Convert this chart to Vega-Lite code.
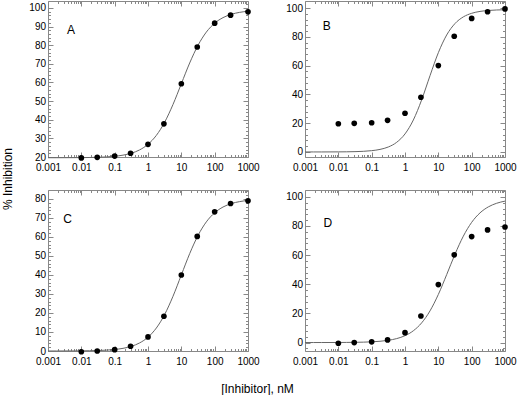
{
  "$schema": "https://vega.github.io/schema/vega-lite/v6.json",
  "padding": {"left": 0, "top": 0, "right": 0, "bottom": 0},
  "background": "white",
  "config": {
    "font": "Liberation Sans",
    "view": {"stroke": "#888", "strokeWidth": 1},
    "axis": {"domain": false, "grid": false, "labelFont": "Liberation Sans", "labelFontSize": 10, "labelColor": "black", "tickColor": "#888", "titleFont": "Liberation Sans", "titleFontWeight": "normal", "titleColor": "black", "labelOverlap": false, "labelFlush": false, "labelBound": false},
    "text": {"font": "Liberation Sans", "fontSize": 12, "color": "black", "align": "center", "baseline": "middle"}
  },
  "datasets": {
    "points": [
      {"panel": "A", "x": 0.01, "y": 19.5}, {"panel": "A", "x": 0.03, "y": 19.8}, {"panel": "A", "x": 0.1, "y": 20.5}, {"panel": "A", "x": 0.3, "y": 22}, {"panel": "A", "x": 1, "y": 26.8}, {"panel": "A", "x": 3, "y": 37.8}, {"panel": "A", "x": 10, "y": 59.3}, {"panel": "A", "x": 30, "y": 79}, {"panel": "A", "x": 100, "y": 91.8}, {"panel": "A", "x": 300, "y": 96.1}, {"panel": "A", "x": 1000, "y": 97.9},
      {"panel": "B", "x": 0.01, "y": 19.6}, {"panel": "B", "x": 0.03, "y": 19.9}, {"panel": "B", "x": 0.1, "y": 20.3}, {"panel": "B", "x": 0.3, "y": 22}, {"panel": "B", "x": 1, "y": 26.9}, {"panel": "B", "x": 3, "y": 38}, {"panel": "B", "x": 10, "y": 60}, {"panel": "B", "x": 30, "y": 80.4}, {"panel": "B", "x": 100, "y": 92.8}, {"panel": "B", "x": 300, "y": 97.4}, {"panel": "B", "x": 1000, "y": 99.4},
      {"panel": "C", "x": 0.01, "y": -0.4}, {"panel": "C", "x": 0.03, "y": 0}, {"panel": "C", "x": 0.1, "y": 0.7}, {"panel": "C", "x": 0.3, "y": 2.5}, {"panel": "C", "x": 1, "y": 7.4}, {"panel": "C", "x": 3, "y": 18.3}, {"panel": "C", "x": 10, "y": 40}, {"panel": "C", "x": 30, "y": 60.3}, {"panel": "C", "x": 100, "y": 73.2}, {"panel": "C", "x": 300, "y": 77.6}, {"panel": "C", "x": 1000, "y": 79},
      {"panel": "D", "x": 0.01, "y": -0.5}, {"panel": "D", "x": 0.03, "y": 0}, {"panel": "D", "x": 0.1, "y": 0.5}, {"panel": "D", "x": 0.3, "y": 1.8}, {"panel": "D", "x": 1, "y": 6.8}, {"panel": "D", "x": 3, "y": 18.2}, {"panel": "D", "x": 10, "y": 39.8}, {"panel": "D", "x": 30, "y": 60.2}, {"panel": "D", "x": 100, "y": 72.7}, {"panel": "D", "x": 300, "y": 77.3}, {"panel": "D", "x": 1000, "y": 79.3}
    ],
    "curves": [
      {"panel": "A", "x": 0.001, "y": 19.61}, {"panel": "A", "x": 0.00178, "y": 19.61}, {"panel": "A", "x": 0.00316, "y": 19.63}, {"panel": "A", "x": 0.00562, "y": 19.64}, {"panel": "A", "x": 0.01, "y": 19.68}, {"panel": "A", "x": 0.0178, "y": 19.74}, {"panel": "A", "x": 0.0316, "y": 19.85}, {"panel": "A", "x": 0.0562, "y": 20.04}, {"panel": "A", "x": 0.1, "y": 20.39}, {"panel": "A", "x": 0.178, "y": 20.99}, {"panel": "A", "x": 0.316, "y": 22.03}, {"panel": "A", "x": 0.562, "y": 23.82}, {"panel": "A", "x": 1, "y": 26.82}, {"panel": "A", "x": 1.78, "y": 31.6}, {"panel": "A", "x": 3.16, "y": 38.67}, {"panel": "A", "x": 5.62, "y": 48.17}, {"panel": "A", "x": 10, "y": 59.3}, {"panel": "A", "x": 17.8, "y": 70.44}, {"panel": "A", "x": 31.6, "y": 79.91}, {"panel": "A", "x": 56.2, "y": 87.01}, {"panel": "A", "x": 100, "y": 91.78}, {"panel": "A", "x": 178, "y": 94.78}, {"panel": "A", "x": 316, "y": 96.56}, {"panel": "A", "x": 562, "y": 97.61}, {"panel": "A", "x": 1000, "y": 98.21},
      {"panel": "B", "x": 0.001, "y": 0.004}, {"panel": "B", "x": 0.00178, "y": 0.007}, {"panel": "B", "x": 0.00316, "y": 0.014}, {"panel": "B", "x": 0.00562, "y": 0.029}, {"panel": "B", "x": 0.01, "y": 0.057}, {"panel": "B", "x": 0.0178, "y": 0.114}, {"panel": "B", "x": 0.0316, "y": 0.227}, {"panel": "B", "x": 0.0562, "y": 0.452}, {"panel": "B", "x": 0.1, "y": 0.898}, {"panel": "B", "x": 0.178, "y": 1.777}, {"panel": "B", "x": 0.316, "y": 3.47}, {"panel": "B", "x": 0.562, "y": 6.7}, {"panel": "B", "x": 1, "y": 12.53}, {"panel": "B", "x": 1.78, "y": 22.22}, {"panel": "B", "x": 3.16, "y": 36.21}, {"panel": "B", "x": 5.62, "y": 52.97}, {"panel": "B", "x": 10, "y": 68.97}, {"panel": "B", "x": 17.8, "y": 81.29}, {"panel": "B", "x": 31.6, "y": 89.24}, {"panel": "B", "x": 56.2, "y": 93.86}, {"panel": "B", "x": 100, "y": 96.35}, {"panel": "B", "x": 178, "y": 97.66}, {"panel": "B", "x": 316, "y": 98.32}, {"panel": "B", "x": 562, "y": 98.66}, {"panel": "B", "x": 1000, "y": 98.83},
      {"panel": "C", "x": 0.001, "y": 0.008}, {"panel": "C", "x": 0.00178, "y": 0.014}, {"panel": "C", "x": 0.00316, "y": 0.025}, {"panel": "C", "x": 0.00562, "y": 0.045}, {"panel": "C", "x": 0.01, "y": 0.08}, {"panel": "C", "x": 0.0178, "y": 0.142}, {"panel": "C", "x": 0.0316, "y": 0.252}, {"panel": "C", "x": 0.0562, "y": 0.447}, {"panel": "C", "x": 0.1, "y": 0.792}, {"panel": "C", "x": 0.178, "y": 1.4}, {"panel": "C", "x": 0.316, "y": 2.45}, {"panel": "C", "x": 0.562, "y": 4.26}, {"panel": "C", "x": 1, "y": 7.27}, {"panel": "C", "x": 1.78, "y": 12.09}, {"panel": "C", "x": 3.16, "y": 19.21}, {"panel": "C", "x": 5.62, "y": 28.78}, {"panel": "C", "x": 10, "y": 40}, {"panel": "C", "x": 17.8, "y": 51.22}, {"panel": "C", "x": 31.6, "y": 60.77}, {"panel": "C", "x": 56.2, "y": 67.92}, {"panel": "C", "x": 100, "y": 72.73}, {"panel": "C", "x": 178, "y": 75.74}, {"panel": "C", "x": 316, "y": 77.55}, {"panel": "C", "x": 562, "y": 78.6}, {"panel": "C", "x": 1000, "y": 79.21},
      {"panel": "D", "x": 0.001, "y": 0.005}, {"panel": "D", "x": 0.00178, "y": 0.009}, {"panel": "D", "x": 0.00316, "y": 0.016}, {"panel": "D", "x": 0.00562, "y": 0.028}, {"panel": "D", "x": 0.01, "y": 0.049}, {"panel": "D", "x": 0.0178, "y": 0.088}, {"panel": "D", "x": 0.0316, "y": 0.156}, {"panel": "D", "x": 0.0562, "y": 0.278}, {"panel": "D", "x": 0.1, "y": 0.493}, {"panel": "D", "x": 0.178, "y": 0.873}, {"panel": "D", "x": 0.316, "y": 1.54}, {"panel": "D", "x": 0.562, "y": 2.71}, {"panel": "D", "x": 1, "y": 4.71}, {"panel": "D", "x": 1.78, "y": 8.09}, {"panel": "D", "x": 3.16, "y": 13.51}, {"panel": "D", "x": 5.62, "y": 21.72}, {"panel": "D", "x": 10, "y": 33}, {"panel": "D", "x": 17.8, "y": 46.62}, {"panel": "D", "x": 31.6, "y": 60.63}, {"panel": "D", "x": 56.2, "y": 73.01}, {"panel": "D", "x": 100, "y": 82.5}, {"panel": "D", "x": 178, "y": 89}, {"panel": "D", "x": 316, "y": 93.11}, {"panel": "D", "x": 562, "y": 95.6}, {"panel": "D", "x": 1000, "y": 97.06}
    ]
  },
  "columns": 2,
  "bounds": "flush",
  "spacing": {"row": 33, "column": 57},
  "concat": [
    {
      "width": 200, "height": 156,
      "resolve": {"axis": {"x": "independent", "y": "independent"}},
      "layer": [
        {
          "data": {"name": "curves"},
          "transform": [{"filter": "datum.panel == 'A'"}],
          "mark": {"type": "line", "color": "#666", "strokeWidth": 1, "interpolate": "monotone"},
          "encoding": {
            "x": {"field": "x", "type": "quantitative", "scale": {"type": "log", "domain": [0.001, 1000], "nice": false},
              "axis": {"orient": "bottom", "title": null, "values": [0.001,0.002,0.003,0.004,0.005,0.006,0.007,0.008,0.009,0.01,0.02,0.03,0.04,0.05,0.06,0.07,0.08,0.09,0.1,0.2,0.3,0.4,0.5,0.6,0.7,0.8,0.9,1,2,3,4,5,6,7,8,9,10,20,30,40,50,60,70,80,90,100,200,300,400,500,600,700,800,900,1000],
                "labelExpr": "abs(log(datum.value)/LN10 - round(log(datum.value)/LN10)) < 0.001 ? format(datum.value, '~g') : ''",
                "tickSize": {"condition": {"test": "abs(log(datum.value)/LN10 - round(log(datum.value)/LN10)) < 0.001", "value": -5}, "value": -2.5},
                "labelPadding": 10}},
            "y": {"field": "y", "type": "quantitative", "scale": {"domain": [20, 103.7], "nice": false, "zero": false},
              "axis": {"orient": "left", "values": [20,22,24,26,28,30,32,34,36,38,40,42,44,46,48,50,52,54,56,58,60,62,64,66,68,70,72,74,76,78,80,82,84,86,88,90,92,94,96,98,100],
                "labelExpr": "datum.value % 10 == 0 ? datum.label : ''",
                "tickSize": {"condition": {"test": "datum.value % 10 == 0", "value": -5}, "value": -2.5},
                "labelPadding": 7.5,
                "title": "% Inhibition", "titleFontSize": 12, "titleX": -41, "titleY": 177.5, "titleAlign": "center", "titleBaseline": "middle", "titleAngle": -90}}
          }
        },
        {
          "data": {"name": "points"},
          "transform": [{"filter": "datum.panel == 'A'"}],
          "mark": {"type": "circle", "color": "black", "opacity": 1, "size": 32},
          "encoding": {
            "x": {"field": "x", "type": "quantitative",
              "axis": {"orient": "top", "title": null, "labels": false, "values": [0.001,0.002,0.003,0.004,0.005,0.006,0.007,0.008,0.009,0.01,0.02,0.03,0.04,0.05,0.06,0.07,0.08,0.09,0.1,0.2,0.3,0.4,0.5,0.6,0.7,0.8,0.9,1,2,3,4,5,6,7,8,9,10,20,30,40,50,60,70,80,90,100,200,300,400,500,600,700,800,900,1000],
                "tickSize": {"condition": {"test": "abs(log(datum.value)/LN10 - round(log(datum.value)/LN10)) < 0.001", "value": -5}, "value": -2.5}}},
            "y": {"field": "y", "type": "quantitative",
              "axis": {"orient": "right", "title": null, "labels": false, "values": [20,22,24,26,28,30,32,34,36,38,40,42,44,46,48,50,52,54,56,58,60,62,64,66,68,70,72,74,76,78,80,82,84,86,88,90,92,94,96,98,100,102],
                "tickSize": {"condition": {"test": "datum.value % 10 == 0", "value": -5}, "value": -2.5}}}
          }
        },
        {
          "data": {"values": [{"label": "A"}]},
          "mark": {"type": "text"},
          "encoding": {
            "x": {"datum": 0.0049, "type": "quantitative", "axis": null},
            "y": {"datum": 88.1, "type": "quantitative", "axis": null},
            "text": {"field": "label"}
          }
        }
      ]
    },
    {
      "width": 200, "height": 156,
      "resolve": {"axis": {"x": "independent", "y": "independent"}},
      "layer": [
        {
          "data": {"name": "curves"},
          "transform": [{"filter": "datum.panel == 'B'"}],
          "mark": {"type": "line", "color": "#666", "strokeWidth": 1, "interpolate": "monotone"},
          "encoding": {
            "x": {"field": "x", "type": "quantitative", "scale": {"type": "log", "domain": [0.001, 1000], "nice": false},
              "axis": {"orient": "bottom", "title": null, "values": [0.001,0.002,0.003,0.004,0.005,0.006,0.007,0.008,0.009,0.01,0.02,0.03,0.04,0.05,0.06,0.07,0.08,0.09,0.1,0.2,0.3,0.4,0.5,0.6,0.7,0.8,0.9,1,2,3,4,5,6,7,8,9,10,20,30,40,50,60,70,80,90,100,200,300,400,500,600,700,800,900,1000],
                "labelExpr": "abs(log(datum.value)/LN10 - round(log(datum.value)/LN10)) < 0.001 ? format(datum.value, '~g') : ''",
                "tickSize": {"condition": {"test": "abs(log(datum.value)/LN10 - round(log(datum.value)/LN10)) < 0.001", "value": -5}, "value": -2.5},
                "labelPadding": 10}},
            "y": {"field": "y", "type": "quantitative", "scale": {"domain": [-3.5, 104.9], "nice": false, "zero": false},
              "axis": {"orient": "left", "title": null, "values": [0,4,8,12,16,20,24,28,32,36,40,44,48,52,56,60,64,68,72,76,80,84,88,92,96,100],
                "labelExpr": "datum.value % 20 == 0 ? datum.label : ''",
                "tickSize": {"condition": {"test": "datum.value % 20 == 0", "value": -5}, "value": -2.5},
                "labelPadding": 7.5}}
          }
        },
        {
          "data": {"name": "points"},
          "transform": [{"filter": "datum.panel == 'B'"}],
          "mark": {"type": "circle", "color": "black", "opacity": 1, "size": 32},
          "encoding": {
            "x": {"field": "x", "type": "quantitative",
              "axis": {"orient": "top", "title": null, "labels": false, "values": [0.001,0.002,0.003,0.004,0.005,0.006,0.007,0.008,0.009,0.01,0.02,0.03,0.04,0.05,0.06,0.07,0.08,0.09,0.1,0.2,0.3,0.4,0.5,0.6,0.7,0.8,0.9,1,2,3,4,5,6,7,8,9,10,20,30,40,50,60,70,80,90,100,200,300,400,500,600,700,800,900,1000],
                "tickSize": {"condition": {"test": "abs(log(datum.value)/LN10 - round(log(datum.value)/LN10)) < 0.001", "value": -5}, "value": -2.5}}},
            "y": {"field": "y", "type": "quantitative",
              "axis": {"orient": "right", "title": null, "labels": false, "values": [0,4,8,12,16,20,24,28,32,36,40,44,48,52,56,60,64,68,72,76,80,84,88,92,96,100,104],
                "tickSize": {"condition": {"test": "datum.value % 20 == 0", "value": -5}, "value": -2.5}}}
          }
        },
        {
          "data": {"values": [{"label": "B"}]},
          "mark": {"type": "text"},
          "encoding": {
            "x": {"datum": 0.00448, "type": "quantitative", "axis": null},
            "y": {"datum": 87.5, "type": "quantitative", "axis": null},
            "text": {"field": "label"}
          }
        }
      ]
    },
    {
      "width": 200, "height": 161,
      "resolve": {"axis": {"x": "independent", "y": "independent"}},
      "layer": [
        {
          "data": {"name": "curves"},
          "transform": [{"filter": "datum.panel == 'C'"}],
          "mark": {"type": "line", "color": "#666", "strokeWidth": 1, "interpolate": "monotone"},
          "encoding": {
            "x": {"field": "x", "type": "quantitative", "scale": {"type": "log", "domain": [0.001, 1000], "nice": false},
              "axis": {"orient": "bottom", "values": [0.001,0.002,0.003,0.004,0.005,0.006,0.007,0.008,0.009,0.01,0.02,0.03,0.04,0.05,0.06,0.07,0.08,0.09,0.1,0.2,0.3,0.4,0.5,0.6,0.7,0.8,0.9,1,2,3,4,5,6,7,8,9,10,20,30,40,50,60,70,80,90,100,200,300,400,500,600,700,800,900,1000],
                "labelExpr": "abs(log(datum.value)/LN10 - round(log(datum.value)/LN10)) < 0.001 ? format(datum.value, '~g') : ''",
                "tickSize": {"condition": {"test": "abs(log(datum.value)/LN10 - round(log(datum.value)/LN10)) < 0.001", "value": -5}, "value": -2.5},
                "labelPadding": 10,
                "title": "[Inhibitor], nM", "titleFontSize": 12, "titleX": 209, "titleY": 37, "titleAlign": "center", "titleBaseline": "middle"}},
            "y": {"field": "y", "type": "quantitative", "scale": {"domain": [0, 84.7], "nice": false, "zero": false},
              "axis": {"orient": "left", "title": null, "values": [0,2,4,6,8,10,12,14,16,18,20,22,24,26,28,30,32,34,36,38,40,42,44,46,48,50,52,54,56,58,60,62,64,66,68,70,72,74,76,78,80],
                "labelExpr": "datum.value % 10 == 0 ? datum.label : ''",
                "tickSize": {"condition": {"test": "datum.value % 10 == 0", "value": -5}, "value": -2.5},
                "labelPadding": 7.5}}
          }
        },
        {
          "data": {"name": "points"},
          "transform": [{"filter": "datum.panel == 'C'"}],
          "mark": {"type": "circle", "color": "black", "opacity": 1, "size": 32},
          "encoding": {
            "x": {"field": "x", "type": "quantitative",
              "axis": {"orient": "top", "title": null, "labels": false, "values": [0.001,0.002,0.003,0.004,0.005,0.006,0.007,0.008,0.009,0.01,0.02,0.03,0.04,0.05,0.06,0.07,0.08,0.09,0.1,0.2,0.3,0.4,0.5,0.6,0.7,0.8,0.9,1,2,3,4,5,6,7,8,9,10,20,30,40,50,60,70,80,90,100,200,300,400,500,600,700,800,900,1000],
                "tickSize": {"condition": {"test": "abs(log(datum.value)/LN10 - round(log(datum.value)/LN10)) < 0.001", "value": -5}, "value": -2.5}}},
            "y": {"field": "y", "type": "quantitative",
              "axis": {"orient": "right", "title": null, "labels": false, "values": [0,2,4,6,8,10,12,14,16,18,20,22,24,26,28,30,32,34,36,38,40,42,44,46,48,50,52,54,56,58,60,62,64,66,68,70,72,74,76,78,80,82,84],
                "tickSize": {"condition": {"test": "datum.value % 10 == 0", "value": -5}, "value": -2.5}}}
          }
        },
        {
          "data": {"values": [{"label": "C"}]},
          "mark": {"type": "text"},
          "encoding": {
            "x": {"datum": 0.0039, "type": "quantitative", "axis": null},
            "y": {"datum": 69.4, "type": "quantitative", "axis": null},
            "text": {"field": "label"}
          }
        }
      ]
    },
    {
      "width": 200, "height": 161,
      "resolve": {"axis": {"x": "independent", "y": "independent"}},
      "layer": [
        {
          "data": {"name": "curves"},
          "transform": [{"filter": "datum.panel == 'D'"}],
          "mark": {"type": "line", "color": "#666", "strokeWidth": 1, "interpolate": "monotone"},
          "encoding": {
            "x": {"field": "x", "type": "quantitative", "scale": {"type": "log", "domain": [0.001, 1000], "nice": false},
              "axis": {"orient": "bottom", "title": null, "values": [0.001,0.002,0.003,0.004,0.005,0.006,0.007,0.008,0.009,0.01,0.02,0.03,0.04,0.05,0.06,0.07,0.08,0.09,0.1,0.2,0.3,0.4,0.5,0.6,0.7,0.8,0.9,1,2,3,4,5,6,7,8,9,10,20,30,40,50,60,70,80,90,100,200,300,400,500,600,700,800,900,1000],
                "labelExpr": "abs(log(datum.value)/LN10 - round(log(datum.value)/LN10)) < 0.001 ? format(datum.value, '~g') : ''",
                "tickSize": {"condition": {"test": "abs(log(datum.value)/LN10 - round(log(datum.value)/LN10)) < 0.001", "value": -5}, "value": -2.5},
                "labelPadding": 10}},
            "y": {"field": "y", "type": "quantitative", "scale": {"domain": [-5.8, 104.7], "nice": false, "zero": false},
              "axis": {"orient": "left", "title": null, "values": [-4,0,4,8,12,16,20,24,28,32,36,40,44,48,52,56,60,64,68,72,76,80,84,88,92,96,100],
                "labelExpr": "datum.value % 20 == 0 ? datum.label : ''",
                "tickSize": {"condition": {"test": "datum.value % 20 == 0", "value": -5}, "value": -2.5},
                "labelPadding": 7.5}}
          }
        },
        {
          "data": {"name": "points"},
          "transform": [{"filter": "datum.panel == 'D'"}],
          "mark": {"type": "circle", "color": "black", "opacity": 1, "size": 32},
          "encoding": {
            "x": {"field": "x", "type": "quantitative",
              "axis": {"orient": "top", "title": null, "labels": false, "values": [0.001,0.002,0.003,0.004,0.005,0.006,0.007,0.008,0.009,0.01,0.02,0.03,0.04,0.05,0.06,0.07,0.08,0.09,0.1,0.2,0.3,0.4,0.5,0.6,0.7,0.8,0.9,1,2,3,4,5,6,7,8,9,10,20,30,40,50,60,70,80,90,100,200,300,400,500,600,700,800,900,1000],
                "tickSize": {"condition": {"test": "abs(log(datum.value)/LN10 - round(log(datum.value)/LN10)) < 0.001", "value": -5}, "value": -2.5}}},
            "y": {"field": "y", "type": "quantitative",
              "axis": {"orient": "right", "title": null, "labels": false, "values": [-4,0,4,8,12,16,20,24,28,32,36,40,44,48,52,56,60,64,68,72,76,80,84,88,92,96,100,104],
                "tickSize": {"condition": {"test": "datum.value % 20 == 0", "value": -5}, "value": -2.5}}}
          }
        },
        {
          "data": {"values": [{"label": "D"}]},
          "mark": {"type": "text"},
          "encoding": {
            "x": {"datum": 0.0048, "type": "quantitative", "axis": null},
            "y": {"datum": 82.3, "type": "quantitative", "axis": null},
            "text": {"field": "label"}
          }
        }
      ]
    }
  ]
}
